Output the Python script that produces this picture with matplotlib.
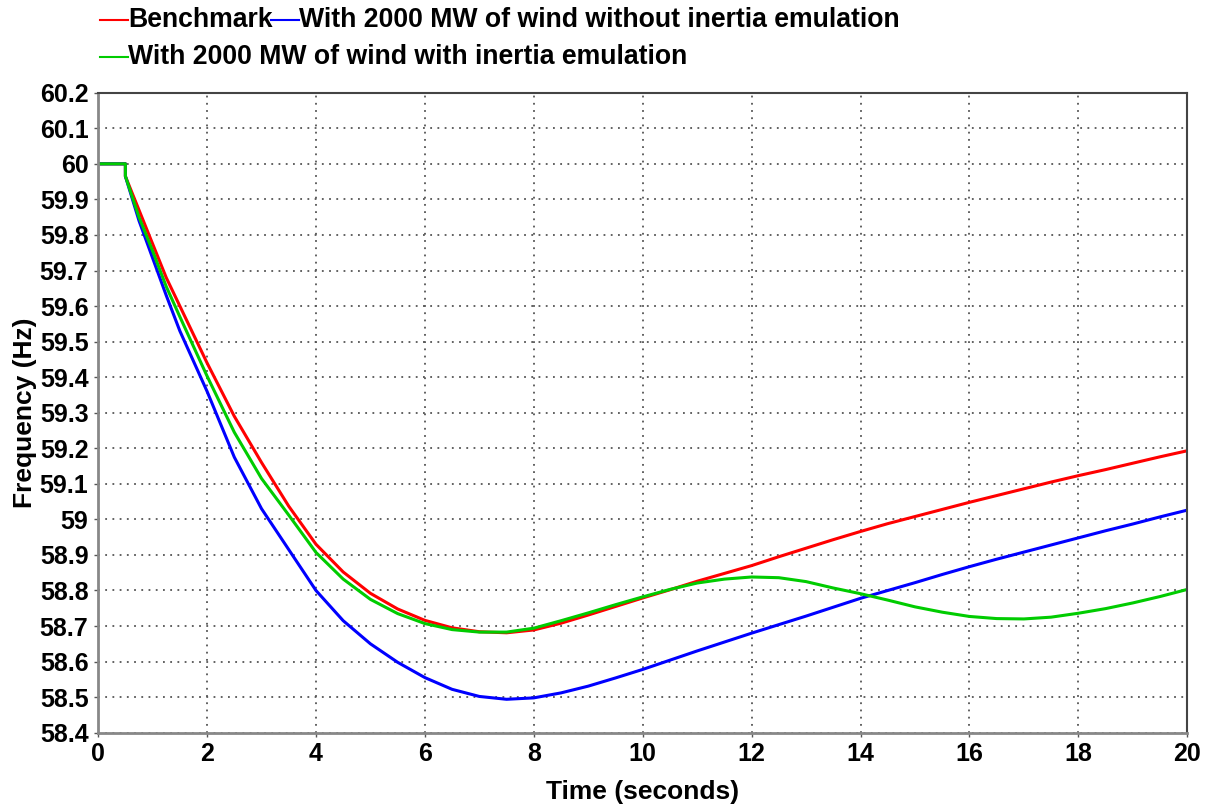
import matplotlib
matplotlib.use("Agg")
import matplotlib.pyplot as plt
from matplotlib.lines import Line2D

# time axis (s); the step at 0.5 s is the disturbance
time = [0, 0.5, 0.5, 0.75, 1.0, 1.25, 1.5, 2.0, 2.5, 3.0, 3.5, 4.0, 4.5, 5.0, 5.5,
        6.0, 6.5, 7.0, 7.5, 8.0, 8.5, 9.0, 9.5, 10.0, 10.5, 11.0, 11.5, 12.0, 12.5,
        13.0, 13.5, 14.0, 14.5, 15.0, 15.5, 16.0, 16.5, 17.0, 17.5, 18.0, 18.5,
        19.0, 19.5, 20.0]

benchmark = [60, 60, 59.965, 59.87, 59.775, 59.68, 59.6, 59.44, 59.29, 59.16, 59.037,
             58.93, 58.852, 58.792, 58.748, 58.716, 58.695, 58.684, 58.681, 58.689,
             58.708, 58.731, 58.755, 58.779, 58.802, 58.826, 58.848, 58.87, 58.895,
             58.919, 58.943, 58.966, 58.988, 59.008, 59.028, 59.048, 59.067, 59.086,
             59.105, 59.123, 59.14, 59.158, 59.176, 59.193]

no_emulation = [60, 60, 59.965, 59.84, 59.735, 59.63, 59.53, 59.36, 59.175, 59.03, 58.915,
                58.8, 58.715, 58.65, 58.598, 58.555, 58.522, 58.502, 58.494, 58.498,
                58.512, 58.531, 58.554, 58.578, 58.604, 58.63, 58.655, 58.68, 58.704,
                58.728, 58.753, 58.778, 58.8, 58.822, 58.845, 58.867, 58.888, 58.908,
                58.928, 58.948, 58.968, 58.987, 59.007, 59.026]

with_emulation = [60, 60, 59.965, 59.85, 59.755, 59.655, 59.57, 59.403, 59.245, 59.115, 59.012,
                  58.907, 58.832, 58.775, 58.735, 58.707, 58.69, 58.683, 58.683, 58.694,
                  58.715, 58.737, 58.76, 58.782, 58.803, 58.821, 58.832, 58.838, 58.836,
                  58.825, 58.807, 58.791, 58.773, 58.754, 58.739, 58.727, 58.721, 58.72,
                  58.725, 58.736, 58.749, 58.765, 58.783, 58.803]

labels = ["Benchmark", "With 2000 MW of wind without inertia emulation",
          "With 2000 MW of wind with inertia emulation"]
colors = ["#ff0000", "#0000ff", "#00cc00"]

x_ticks = list(range(0, 21, 2))
y_ticks = [round(58.4 + 0.1 * i, 1) for i in range(19)]
y_ticklabels = [("%g" % v) for v in y_ticks]

plt.rcParams['font.family'] = ['Liberation Sans', 'DejaVu Sans']
plt.rcParams['font.weight'] = 'bold'

fig = plt.figure(figsize=(12.09, 8.05), dpi=100)
ax = fig.add_axes([0.0812, 0.0898, 0.9008, 0.7950])

for series, c in zip([benchmark, no_emulation, with_emulation], colors):
    ax.plot(time, series, color=c, linewidth=2.2)

ax.set_xlim(0, 20)
ax.set_ylim(58.4, 60.2)
ax.set_xticks(x_ticks)
ax.set_yticks(y_ticks)
ax.set_yticklabels(y_ticklabels)
ax.tick_params(labelsize=18, length=3, width=1, color='#555555', pad=4)
ax.grid(True, linestyle=(0, (1, 3)), color='#555555', linewidth=1.3)

for side in ['left', 'bottom']:
    ax.spines[side].set_color('#888888')
    ax.spines[side].set_linewidth(2)
for side in ['top', 'right']:
    ax.spines[side].set_color('#444444')
    ax.spines[side].set_linewidth(1.5)

ax.set_xlabel('Time (seconds)', fontsize=19, fontweight='bold', labelpad=10)
ax.set_ylabel('Frequency (Hz)', fontsize=19, fontweight='bold', labelpad=2)

# legend drawn as a flowing line of entries above the plot
entries = [(0.0827, 0.975, 0), (0.2245, 0.975, 1), (0.0827, 0.929, 2)]
seg = 0.023
for x0, y0, i in entries:
    fig.add_artist(Line2D([x0, x0 + seg], [y0, y0], color=colors[i], linewidth=1.5,
                          transform=fig.transFigure))
    fig.text(x0 + seg, y0, labels[i], fontsize=19.2, fontweight='bold',
             va='center', ha='left')

fig.savefig('out.png', dpi=100)
